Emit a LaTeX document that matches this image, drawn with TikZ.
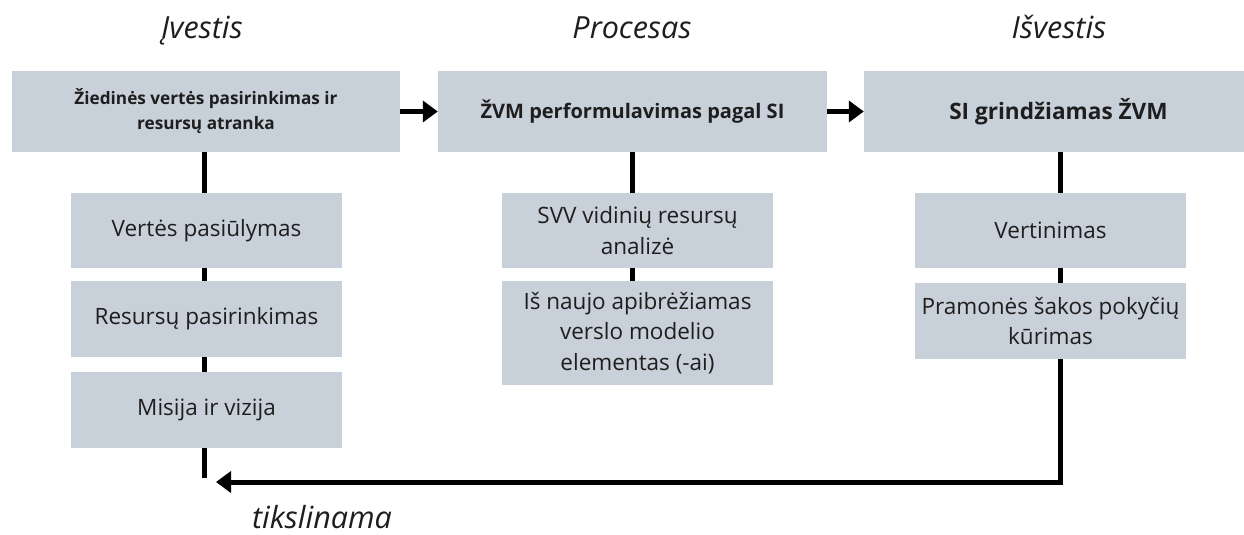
\documentclass[tikz,border=0pt]{standalone}
\usepackage{fontspec}
\setmainfont{Open Sans}
\usetikzlibrary{arrows.meta}

\definecolor{boxfill}{RGB}{200,208,217}
\definecolor{ink}{RGB}{30,30,30}

\tikzset{
  stage/.style={rectangle, fill=boxfill, inner sep=0pt, align=center,
    minimum height=81pt, text=ink, font=\bfseries},
  item/.style={rectangle, fill=boxfill, inner sep=0pt, align=center,
    minimum width=271pt, text=ink, font=\fontsize{22.5}{30.5}\selectfont},
  heading/.style={anchor=base, text=ink, font=\fontsize{30.5}{34}\selectfont\itshape},
  link/.style={line width=5pt, black},
  flow/.style={line width=5pt, black, -{Triangle[length=15pt,width=21pt]}}
}

\begin{document}
\begin{tikzpicture}[x=1pt,y=-1pt]
  \clip (0,0) rectangle (1244,535);
  \fill[white] (0,0) rectangle (1244,535);

  % column headings
  \node[heading] (hin)   at (202,39)  {Įvestis};
  \node[heading] (hproc) at (632,39)  {Procesas};
  \node[heading] (hout)  at (1059,39) {Išvestis};

  % feedback corner points
  \coordinate (fbL) at (204,478);
  \coordinate (fbR) at (1060,482);
  \coordinate (fbTip) at (216,482);

  % vertical spines (behind the boxes)
  \draw[link] (204,150) -- (fbL);
  \draw[link] (632,150) -- (632,283);
  \draw[link,line join=miter] (1060,150) -- (fbR) -- (1057,482);

  % main stages
  \node[stage, minimum width=388pt, font=\fontsize{17.2}{25}\selectfont\bfseries]
    (s1) at (206,111.5) {Žiedinės vertės pasirinkimas ir\\resursų atranka};
  \node[stage, minimum width=389pt, font=\fontsize{20}{24}\selectfont\bfseries]
    (s2) at (632.5,111.5) {ŽVM performulavimas pagal SI};
  \node[stage, minimum width=389pt, font=\fontsize{22.6}{26}\selectfont\bfseries]
    (s3) at (1058.5,111.5) {SI grindžiamas ŽVM};

  \draw[flow] (s1.east) -- (s2.west);
  \draw[flow] (s2.east) -- (s3.west);

  % input column
  \node[item, minimum height=75pt] (a1) at (206.5,230.5) {Vertės pasiūlymas};
  \node[item, minimum height=76pt] (a2) at (206.5,319)   {Resursų pasirinkimas};
  \node[item, minimum height=76pt] (a3) at (206.5,410)   {Misija ir vizija};

  % process column
  \node[item, minimum height=75pt] (p1) at (637.5,230.5) {SVV vidinių resursų\\analizė};
  \node[item, minimum height=104pt] (p2) at (637.5,333)  {Iš naujo apibrėžiamas\\verslo modelio\\elementas (-ai)};

  % output column
  \node[item, minimum height=75pt] (o1) at (1050.5,230.5) {Vertinimas};
  \node[item, minimum height=76pt] (o2) at (1050.5,321)   {Pramonės šakos pokyčių\\kūrimas};

  % feedback arrow
  \draw[flow] (fbR) -- (fbTip);
  \node[heading] (fbl) at (322,528) {tikslinama};
\end{tikzpicture}
\end{document}
